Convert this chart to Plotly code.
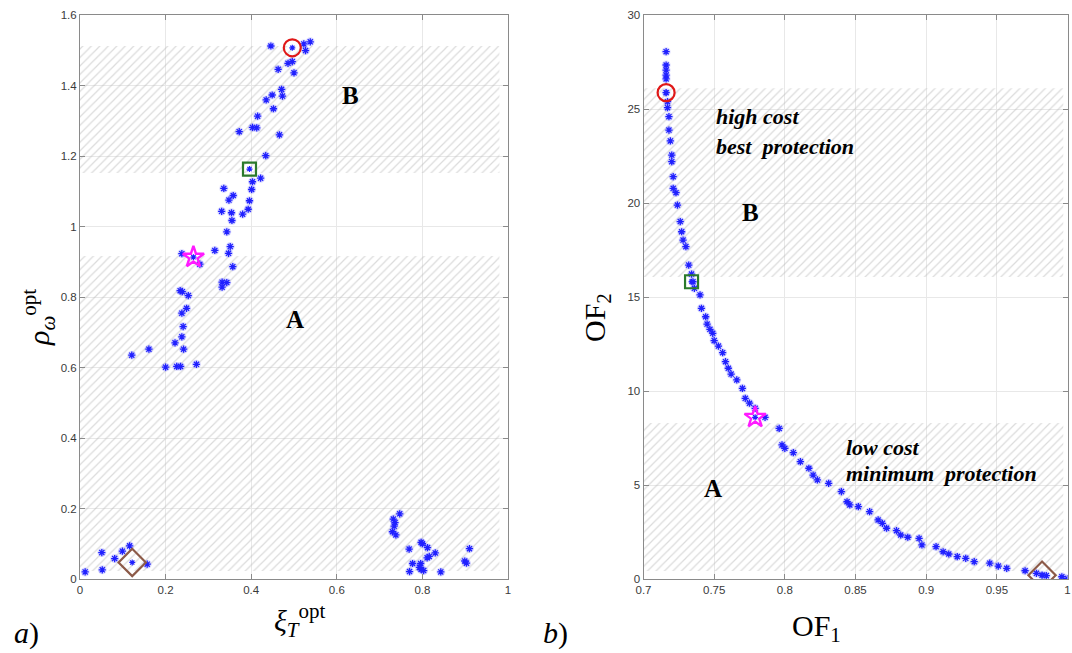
import plotly.graph_objects as go

# ---------------- data: panel a) ----------------
xi_opt = [0.446, 0.523, 0.538, 0.527, 0.496, 0.486, 0.500, 0.463, 0.471, 0.473,
          0.449, 0.435, 0.452, 0.415, 0.403, 0.413, 0.372, 0.466, 0.434, 0.422,
          0.403, 0.401, 0.336, 0.358, 0.348, 0.396, 0.393, 0.380, 0.331, 0.354,
          0.355, 0.343, 0.351, 0.347, 0.315, 0.238, 0.280, 0.357, 0.332, 0.343,
          0.332, 0.234, 0.239, 0.253, 0.249, 0.238, 0.241, 0.238, 0.222, 0.242,
          0.161, 0.121, 0.200, 0.226, 0.235, 0.272,
          0.012, 0.051, 0.052, 0.081, 0.099, 0.116, 0.157,
          0.747, 0.732, 0.736, 0.734, 0.730, 0.738, 0.769, 0.797, 0.800, 0.812,
          0.830, 0.816, 0.811, 0.777, 0.796, 0.793, 0.797, 0.803, 0.770, 0.843,
          0.910, 0.899, 0.903]
rho_opt = [1.512, 1.518, 1.524, 1.499, 1.468, 1.463, 1.436, 1.446, 1.389, 1.370,
           1.373, 1.359, 1.334, 1.313, 1.281, 1.280, 1.269, 1.260, 1.201, 1.137,
           1.127, 1.105, 1.108, 1.088, 1.075, 1.073, 1.049, 1.035, 1.043, 1.039,
           1.017, 0.985, 0.943, 0.924, 0.932, 0.923, 0.893, 0.886, 0.842, 0.841,
           0.828, 0.818, 0.815, 0.804, 0.768, 0.754, 0.716, 0.687, 0.670, 0.652,
           0.652, 0.635, 0.601, 0.603, 0.603, 0.609,
           0.020, 0.075, 0.026, 0.058, 0.079, 0.094, 0.042,
           0.185, 0.170, 0.160, 0.150, 0.134, 0.125, 0.085, 0.104, 0.100, 0.089,
           0.074, 0.064, 0.060, 0.044, 0.044, 0.033, 0.027, 0.024, 0.021, 0.020,
           0.086, 0.051, 0.045]

# highlighted solutions (circle, square, star, diamond)
sel_xi = [0.496, 0.396, 0.265, 0.122]
sel_rho = [1.507, 1.163, 0.913, 0.047]

# ---------------- data: panel b) ----------------
of1 = [0.716, 0.716, 0.716, 0.716, 0.716, 0.716, 0.717, 0.717, 0.718, 0.718,
       0.719, 0.720, 0.720, 0.721, 0.721, 0.723, 0.724, 0.726, 0.727, 0.728,
       0.730, 0.732, 0.734, 0.735, 0.736, 0.740, 0.741, 0.744, 0.745, 0.747,
       0.749, 0.750, 0.753, 0.756, 0.758, 0.760, 0.762, 0.766, 0.770, 0.772,
       0.775, 0.779, 0.786, 0.796, 0.798, 0.800, 0.806, 0.811, 0.817, 0.820,
       0.823, 0.831, 0.840, 0.844, 0.846, 0.852, 0.860, 0.866, 0.869, 0.872,
       0.879, 0.882, 0.887, 0.895, 0.897, 0.907, 0.912, 0.916, 0.922, 0.928,
       0.934, 0.945, 0.951, 0.957, 0.970, 0.978, 0.982, 0.985, 0.996, 1.000]
of2 = [28.05, 27.34, 27.07, 26.80, 26.60, 25.87, 25.39, 25.07, 24.59, 23.88,
       23.30, 22.55, 22.20, 21.40, 20.78, 20.55, 19.89, 19.01, 18.47, 18.03,
       17.68, 16.70, 16.22, 15.81, 15.46, 15.11, 14.40, 13.95, 13.56, 13.28,
       13.07, 12.68, 12.39, 12.04, 11.56, 11.21, 10.90, 10.59, 10.14, 9.61,
       9.35, 9.08, 8.60, 8.01, 7.13, 6.95, 6.72, 6.24, 5.89, 5.53,
       5.27, 5.09, 4.65, 4.11, 3.94, 3.85, 3.58, 3.14, 2.96, 2.70,
       2.57, 2.34, 2.22, 2.16, 1.81, 1.72, 1.45, 1.33, 1.19, 1.10,
       0.92, 0.84, 0.69, 0.57, 0.44, 0.30, 0.21, 0.18, 0.12, 0.02]
sel_of1 = [0.716, 0.734, 0.779, 0.982]
sel_of2 = [25.87, 15.81, 8.60, 0.20]

# hatched regions [x0, x1, y0, y1]
regions_a = [[0.0, 0.98, 1.152, 1.512], [0.0, 0.98, 0.023, 0.916]]
regions_b = [[0.7, 0.997, 16.06, 26.1], [0.7, 0.997, 0.43, 8.3]]

# ticks
xa_ticks = [0, 0.2, 0.4, 0.6, 0.8, 1]
xa_text = ["0", "0.2", "0.4", "0.6", "0.8", "1"]
ya_ticks = [0, 0.2, 0.4, 0.6, 0.8, 1, 1.2, 1.4, 1.6]
ya_text = ["0", "0.2", "0.4", "0.6", "0.8", "1", "1.2", "1.4", "1.6"]
xb_ticks = [0.7, 0.75, 0.8, 0.85, 0.9, 0.95, 1]
xb_text = ["0.7", "0.75", "0.8", "0.85", "0.9", "0.95", "1"]
yb_ticks = [0, 5, 10, 15, 20, 25, 30]
yb_text = ["0", "5", "10", "15", "20", "25", "30"]

W, H = 1072, 653
fig = go.Figure()

def add_regions(regs, xa, ya):
    for x0, x1, y0, y1 in regs:
        fig.add_trace(go.Scatter(
            x=[x0, x1, x1, x0, x0], y=[y0, y0, y1, y1, y0],
            xaxis=xa, yaxis=ya, mode="lines", line=dict(width=0),
            fill="toself", fillcolor="rgba(0,0,0,0)",
            fillpattern=dict(shape="/", fgcolor="#b8b8b8", bgcolor="rgba(0,0,0,0)",
                             size=6, solidity=0.2),
            hoverinfo="skip", showlegend=False))

add_regions(regions_a, "x", "y")
add_regions(regions_b, "x2", "y2")

BLUE = "#2020ff"

def add_points(xs, ys, xa, ya):
    fig.add_trace(go.Scatter(x=xs, y=ys, xaxis=xa, yaxis=ya, mode="markers",
                             marker=dict(symbol="circle", size=9,
                                         color="rgba(120,120,255,0.25)", line=dict(width=0)),
                             hoverinfo="skip", showlegend=False))
    fig.add_trace(go.Scatter(x=xs, y=ys, xaxis=xa, yaxis=ya, mode="markers",
                             marker=dict(symbol="asterisk-open", size=6, color=BLUE,
                                         line=dict(width=1.3, color=BLUE)),
                             showlegend=False))

add_points(xi_opt, rho_opt, "x", "y")
add_points(of1, of2, "x2", "y2")

sel_styles = [
    dict(symbol="circle-open", size=17, line=dict(width=2.2, color="#e01818"), color="#e01818"),
    dict(symbol="square-open", size=13, line=dict(width=2.2, color="#2b7a2b"), color="#2b7a2b"),
    dict(symbol="star-open", size=16, line=dict(width=2.4, color="#ff1aff"), color="#ff1aff"),
    dict(symbol="diamond-open", size=21, line=dict(width=2.2, color="#8c5a48"), color="#8c5a48"),
]
for i, st in enumerate(sel_styles):
    for xs, ys, xa, ya in [(sel_xi, sel_rho, "x", "y"), (sel_of1, sel_of2, "x2", "y2")]:
        fig.add_trace(go.Scatter(x=[xs[i]], y=[ys[i]], xaxis=xa, yaxis=ya, mode="markers",
                                 marker=dict(symbol="asterisk-open", size=5, color=BLUE,
                                             line=dict(width=1.2, color=BLUE)),
                                 showlegend=False))
        fig.add_trace(go.Scatter(x=[xs[i]], y=[ys[i]], xaxis=xa, yaxis=ya, mode="markers",
                                 marker=st, showlegend=False))

tickfont = dict(family="Liberation Sans, Arial", size=11.5, color="#3a3a3a")
axis_common = dict(showgrid=True, gridcolor="#e8e8e8", gridwidth=1,
                   showline=True, linecolor="#8a8a8a", linewidth=1, mirror="ticks",
                   ticks="inside", ticklen=5, tickcolor="#8a8a8a", tickfont=tickfont,
                   zeroline=False, automargin=False)

X1 = (80 / W, 508 / W)
X2 = (643.5 / W, 1067.5 / W)
Y = (1 - 579 / H, 1 - 15 / H)

fig.update_layout(
    width=W, height=H, margin=dict(l=0, r=0, t=0, b=0, autoexpand=False),
    paper_bgcolor="white", plot_bgcolor="white",
    xaxis=dict(domain=X1, range=[0, 1], tickvals=xa_ticks, ticktext=xa_text, anchor="y", **axis_common),
    yaxis=dict(domain=Y, range=[0, 1.6], tickvals=ya_ticks, ticktext=ya_text, anchor="x", **axis_common),
    xaxis2=dict(domain=X2, range=[0.7, 1], tickvals=xb_ticks, ticktext=xb_text, anchor="y2", **axis_common),
    yaxis2=dict(domain=Y, range=[0, 30], tickvals=yb_ticks, ticktext=yb_text, anchor="x2", **axis_common),
)

serif = "Liberation Serif, Times New Roman, serif"
ann = []
def pa(text, x, y, size, angle=0, xanchor="center"):
    ann.append(dict(text=text, x=x / W, y=1 - y / H, xref="paper", yref="paper",
                    showarrow=False, textangle=angle, xanchor=xanchor, yanchor="middle",
                    font=dict(family=serif, size=size, color="black")))
def da(text, x, y, xr, yr, size, xanchor="center"):
    ann.append(dict(text=text, x=x, y=y, xref=xr, yref=yr, showarrow=False,
                    xanchor=xanchor, yanchor="middle",
                    font=dict(family=serif, size=size, color="black")))

# axis titles
pa("<i>ρ</i><sub><i>ω</i></sub><sup>opt</sup>", 38, 318, 30, angle=-90)
pa("<i>ξ</i><sub><i>T</i></sub><sup>opt</sup>", 300, 620, 30)
pa("OF<sub>1</sub>", 816, 628, 30)
pa("OF<sub>2</sub>", 597, 318, 30, angle=-90)
pa("<i>a</i>)", 26, 633, 30)
pa("<i>b</i>)", 555, 633, 30)

# region labels
da("<b>B</b>", 0.631, 1.373, "x", "y", 25)
da("<b>A</b>", 0.502, 0.735, "x", "y", 25)
da("<b>B</b>", 0.776, 19.5, "x2", "y2", 25)
da("<b>A</b>", 0.749, 4.8, "x2", "y2", 25)
da("<b><i>high cost</i></b>", 0.750, 24.6, "x2", "y2", 22, xanchor="left")
da("<b><i>best  protection</i></b>", 0.750, 23.0, "x2", "y2", 22, xanchor="left")
da("<b><i>low cost</i></b>", 0.842, 7.02, "x2", "y2", 22, xanchor="left")
da("<b><i>minimum  protection</i></b>", 0.842, 5.59, "x2", "y2", 22, xanchor="left")

fig.update_layout(annotations=ann)
fig.write_html("out.html", config={"displayModeBar": False},
               post_script="document.body.style.margin='0px';document.body.style.overflow='hidden';")
